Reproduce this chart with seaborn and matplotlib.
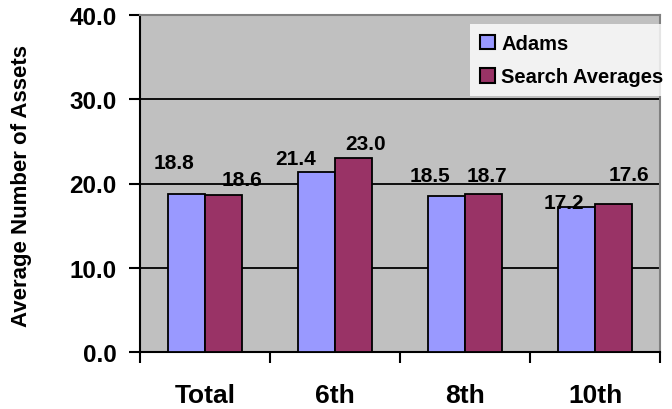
import matplotlib
matplotlib.use("Agg")
import matplotlib.pyplot as plt
import matplotlib.patches as mpatches
import numpy as np
import pandas as pd
import seaborn as sns

# Data
grades = ["Total", "6th", "8th", "10th"]
series = ["Adams", "Search Averages"]
adams = [18.8, 21.4, 18.5, 17.2]
search_avg = [18.6, 23.0, 18.7, 17.6]
y_ticks = [0, 10, 20, 30, 40]

colors = {"Adams": "#9999FF", "Search Averages": "#993366"}

df = pd.DataFrame({
    "grade": grades * 2,
    "series": [series[0]] * len(grades) + [series[1]] * len(grades),
    "value": adams + search_avg,
})

sns.set_theme(style="white")
plt.rcParams["font.family"] = ["Liberation Sans", "DejaVu Sans"]
plt.rcParams["font.weight"] = "bold"
plt.rcParams["text.color"] = "black"
plt.rcParams["axes.labelcolor"] = "black"
plt.rcParams["xtick.color"] = "black"
plt.rcParams["ytick.color"] = "black"

fig = plt.figure(figsize=(6.72, 4.10), dpi=100)
ax = fig.add_axes([140 / 672, 1 - 353 / 410, 520 / 672, 337 / 410])
ax.set_facecolor("#C0C0C0")

sns.barplot(data=df, x="grade", y="value", hue="series", order=grades,
            hue_order=series, palette=colors, width=0.57, dodge=True,
            edgecolor="black", linewidth=1.3, saturation=1, ax=ax,
            legend=False, zorder=3)

ax.set_ylim(0, 40)
ax.set_xlim(-0.5, len(grades) - 0.5)
ax.set_yticks(y_ticks)
ax.set_yticklabels([f"{v:.1f}" for v in y_ticks], fontsize=17.5, fontweight="bold")
ax.yaxis.grid(True, color="black", linewidth=1.3, zorder=0)
ax.set_axisbelow(True)

# Category labels centred, tick marks on category boundaries
ax.set_xticks(range(len(grades)))
ax.set_xticklabels(grades, fontsize=19, fontweight="bold")
ax.tick_params(axis="x", which="major", length=0, pad=22)
ax.set_xticks(np.arange(-0.5, len(grades) + 0.5, 1.0), minor=True)
ax.tick_params(axis="x", which="minor", length=8, width=1.5, direction="out",
               color="black", bottom=True)
ax.tick_params(axis="y", length=8, width=1.5, direction="out", color="black",
               left=True, pad=9)

ax.set_xlabel("")
ax.set_ylabel("")
fig.text(22 / 672, 1 - 186 / 410, "Average Number of Assets", rotation=90,
         ha="center", va="center", fontsize=16, fontweight="bold",
         color="black")

for side in ["left", "bottom"]:
    ax.spines[side].set_color("black")
    ax.spines[side].set_linewidth(1.5)
for side in ["top", "right"]:
    ax.spines[side].set_color("#808080")
    ax.spines[side].set_linewidth(1.5)

# Value labels, nudged around the bar tops (pixel offsets)
label_offsets = [
    [(-12, 31), (-21, 13), (-16, 21), (-13, 5)],
    [(18, 16), (12, 15), (3, 19), (15, 29)],
]
values = [adams, search_avg]
for si, container in enumerate(ax.containers):
    for bi, bar in enumerate(container):
        x = bar.get_x() + bar.get_width() / 2
        v = values[si][bi]
        dx, dy = label_offsets[si][bi]
        ax.annotate(f"{v:.1f}", (x, v), xytext=(dx, dy),
                    textcoords="offset pixels", ha="center", va="center",
                    fontsize=15, fontweight="bold", color="black",
                    annotation_clip=False)

handles = [mpatches.Patch(facecolor=colors[s], edgecolor="black", linewidth=1.5,
                          label=s) for s in series]
leg = fig.legend(handles=handles, loc="upper left", mode="expand",
                 bbox_to_anchor=(470 / 672, 1 - 92 / 410, 202 / 672, 67 / 410),
                 bbox_transform=fig.transFigure, frameon=True,
                 fancybox=False, handlelength=0.75, handleheight=0.75,
                 handletextpad=0.3, labelspacing=0.7, borderpad=0.5,
                 borderaxespad=0, prop={"size": 14.5, "weight": "bold"})
leg.get_frame().set_facecolor("white")
leg.get_frame().set_edgecolor("white")
leg.get_frame().set_linewidth(0)

fig.savefig("out.png", dpi=100, facecolor="white")
